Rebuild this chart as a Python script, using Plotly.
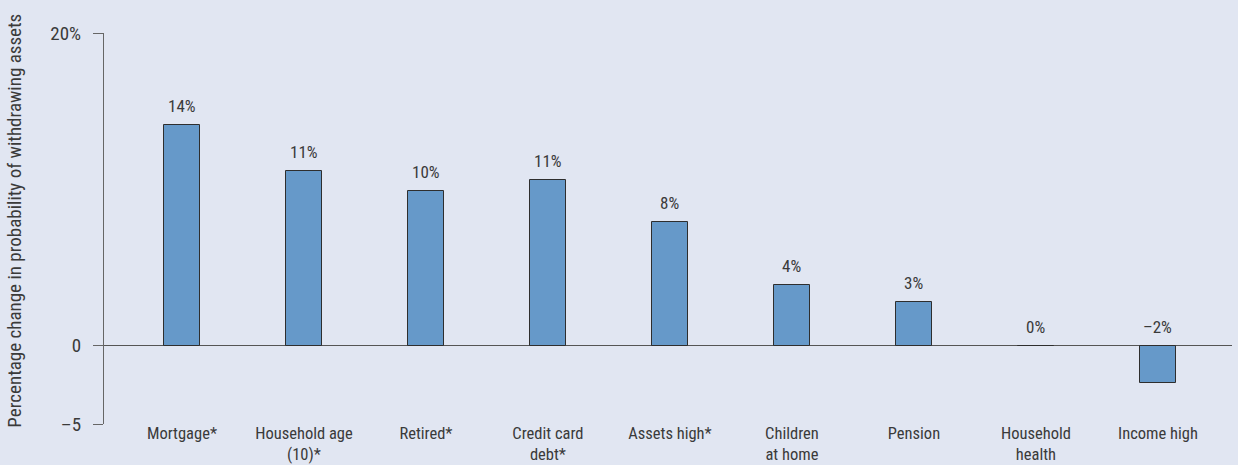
import math
import plotly.graph_objects as go

# Factors and their estimated effect on the probability of withdrawing assets (%)
categories = [
    "Mortgage*",
    "Household age<br>(10)*",
    "Retired*",
    "Credit card<br>debt*",
    "Assets high*",
    "Children<br>at home",
    "Pension",
    "Household<br>health",
    "Income high",
]
effects = [14.1, 11.2, 9.9, 10.6, 7.9, 3.9, 2.8, 0.0, -2.4]

y_tick_values = [-5, 0, 20]
y_tick_labels = ["\u20135", "0", "20%"]

FONT = "Liberation Sans Narrow, Roboto Condensed, Arial Narrow, Liberation Sans, sans-serif"
BG = "#e1e6f2"
BAR = "#6699c9"
TEXT = "#3a3a3a"

W, H = 1238, 465
M_L, M_R, M_T, M_B = 104, 6, 33, 41


def pct_label(v):
    n = math.floor(v + 0.5)
    return ("\u2013" if n < 0 else "") + f"{abs(n)}%"


fig = go.Figure(
    go.Bar(
        x=list(range(len(categories))),
        y=effects,
        width=0.3,
        marker=dict(color=BAR, line=dict(color="#2e2e2e", width=1)),
        hoverinfo="skip",
    )
)

# Value labels sit above the bar top, or above the zero line for non-positive bars
for i, v in enumerate(effects):
    fig.add_annotation(
        x=i,
        y=max(v, 0),
        text=pct_label(v),
        showarrow=False,
        yanchor="bottom",
        yshift=7,
        font=dict(family=FONT, size=17, color=TEXT),
    )

# Vertical axis title, placed near the left edge of the page
fig.add_annotation(
    xref="paper",
    yref="paper",
    x=(15 - M_L) / (W - M_L - M_R),
    y=0.52,
    xanchor="center",
    yanchor="middle",
    textangle=-90,
    text="Percentage change in probability of withdrawing assets",
    showarrow=False,
    font=dict(family=FONT, size=19, color=TEXT),
)

fig.update_layout(
    width=W,
    height=H,
    margin=dict(l=M_L, r=M_R, t=M_T, b=M_B, autoexpand=False),
    paper_bgcolor=BG,
    plot_bgcolor=BG,
    showlegend=False,
    font=dict(family=FONT, size=17, color=TEXT),
    bargap=0,
)

fig.update_xaxes(
    range=[-0.639, 8.607],
    tickmode="array",
    tickvals=list(range(len(categories))),
    ticktext=categories,
    showgrid=False,
    zeroline=False,
    showline=False,
    ticks="",
    automargin=False,
    ticklabelstandoff=-3,
    tickfont=dict(family=FONT, size=16.5, color=TEXT),
)

fig.update_yaxes(
    range=[-5, 20],
    tickmode="array",
    tickvals=y_tick_values,
    ticktext=y_tick_labels,
    showgrid=False,
    zeroline=True,
    zerolinecolor="#555555",
    zerolinewidth=1.2,
    showline=True,
    linecolor="#666666",
    linewidth=1.2,
    ticks="outside",
    ticklen=10,
    tickcolor="#666666",
    tickwidth=1.2,
    ticklabelstandoff=8,
    automargin=False,
    tickfont=dict(family=FONT, size=19, color=TEXT),
)

fig.write_html("out.html")
